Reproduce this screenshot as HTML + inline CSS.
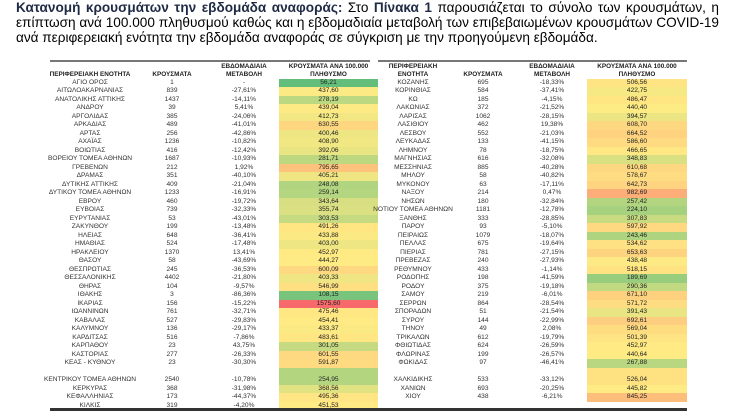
<!DOCTYPE html>
<html><head><meta charset="utf-8">
<style>
html,body{margin:0;padding:0;background:#fff;}
body{width:734px;height:412px;position:relative;overflow:hidden;font-family:"Liberation Sans","DejaVu Sans",sans-serif;}
#intro{position:absolute;left:16px;top:0px;width:703px;font-size:13.6px;line-height:15px;color:#000;text-align:justify;text-align-last:left;}
#intro b{color:#1f2a44;}
.c{position:absolute;font-size:6.6px;color:#333;text-align:center;line-height:8.5px;height:8.5px;white-space:nowrap;}
.h{position:absolute;font-size:6.4px;font-weight:bold;color:#222;text-align:center;line-height:8px;white-space:nowrap;}
.cell{position:absolute;height:8.5px;}
.line{position:absolute;}
</style></head>
<body>
<div id="intro"><b>Κατανομή κρουσμάτων την εβδομάδα αναφοράς:</b> Στο <b>Πίνακα 1</b> παρουσιάζεται το σύνολο των κρουσμάτων, η επίπτωση ανά 100.000 πληθυσμού καθώς και η εβδομαδιαία μεταβολή των επιβεβαιωμένων κρουσμάτων COVID-19 ανά περιφερειακή ενότητα την εβδομάδα αναφοράς σε σύγκριση με την προηγούμενη εβδομάδα.</div>
<div id="tables"></div>
<script>
const leftNames=["ΑΓΙΟ ΟΡΟΣ","ΑΙΤΩΛΟΑΚΑΡΝΑΝΙΑΣ","ΑΝΑΤΟΛΙΚΗΣ ΑΤΤΙΚΗΣ","ΑΝΔΡΟΥ","ΑΡΓΟΛΙΔΑΣ","ΑΡΚΑΔΙΑΣ","ΑΡΤΑΣ","ΑΧΑΪΑΣ","ΒΟΙΩΤΙΑΣ","ΒΟΡΕΙΟΥ ΤΟΜΕΑ ΑΘΗΝΩΝ","ΓΡΕΒΕΝΩΝ","ΔΡΑΜΑΣ","ΔΥΤΙΚΗΣ ΑΤΤΙΚΗΣ","ΔΥΤΙΚΟΥ ΤΟΜΕΑ ΑΘΗΝΩΝ","ΕΒΡΟΥ","ΕΥΒΟΙΑΣ","ΕΥΡΥΤΑΝΙΑΣ","ΖΑΚΥΝΘΟΥ","ΗΛΕΙΑΣ","ΗΜΑΘΙΑΣ","ΗΡΑΚΛΕΙΟΥ","ΘΑΣΟΥ","ΘΕΣΠΡΩΤΙΑΣ","ΘΕΣΣΑΛΟΝΙΚΗΣ","ΘΗΡΑΣ","ΙΘΑΚΗΣ","ΙΚΑΡΙΑΣ","ΙΩΑΝΝΙΝΩΝ","ΚΑΒΑΛΑΣ","ΚΑΛΥΜΝΟΥ","ΚΑΡΔΙΤΣΑΣ","ΚΑΡΠΑΘΟΥ","ΚΑΣΤΟΡΙΑΣ","ΚΕΑΣ - ΚΥΘΝΟΥ","ΚΕΝΤΡΙΚΟΥ ΤΟΜΕΑ ΑΘΗΝΩΝ","ΚΕΡΚΥΡΑΣ","ΚΕΦΑΛΛΗΝΙΑΣ","ΚΙΛΚΙΣ"];
const leftCases=[1,839,1437,39,385,489,256,1236,416,1687,212,351,409,1233,460,739,53,199,648,524,1370,58,245,4402,104,3,156,761,527,136,516,23,277,23,2540,368,173,319];
const leftChange=["-","-27,61%","-14,11%","5,41%","-24,06%","-41,01%","-42,86%","-10,82%","-12,42%","-10,93%","1,92%","-40,10%","-21,04%","-16,91%","-19,72%","-32,33%","-43,01%","-13,48%","-36,41%","-17,48%","13,41%","-43,69%","-36,53%","-21,80%","-9,57%","-86,36%","-15,22%","-32,71%","-29,83%","-29,17%","-7,86%","43,75%","-26,33%","-30,30%","-10,78%","-31,98%","-44,37%","-4,20%"];
const leftRate=[56.21,437.60,278.19,439.04,412.73,630.55,400.46,408.90,392.06,281.71,795.65,405.21,248.08,259.14,343.64,355.74,303.53,491.26,433.88,403.00,452.97,444.27,600.09,403.33,546.99,108.15,1575.60,475.46,454.41,433.37,483.61,301.05,601.55,591.87,254.95,368.56,495.36,451.53];
const rightNames=["ΚΟΖΑΝΗΣ","ΚΟΡΙΝΘΙΑΣ","ΚΩ","ΛΑΚΩΝΙΑΣ","ΛΑΡΙΣΑΣ","ΛΑΣΙΘΙΟΥ","ΛΕΣΒΟΥ","ΛΕΥΚΑΔΑΣ","ΛΗΜΝΟΥ","ΜΑΓΝΗΣΙΑΣ","ΜΕΣΣΗΝΙΑΣ","ΜΗΛΟΥ","ΜΥΚΟΝΟΥ","ΝΑΞΟΥ","ΝΗΣΩΝ","ΝΟΤΙΟΥ ΤΟΜΕΑ ΑΘΗΝΩΝ","ΞΑΝΘΗΣ","ΠΑΡΟΥ","ΠΕΙΡΑΙΩΣ","ΠΕΛΛΑΣ","ΠΙΕΡΙΑΣ","ΠΡΕΒΕΖΑΣ","ΡΕΘΥΜΝΟΥ","ΡΟΔΟΠΗΣ","ΡΟΔΟΥ","ΣΑΜΟΥ","ΣΕΡΡΩΝ","ΣΠΟΡΑΔΩΝ","ΣΥΡΟΥ","ΤΗΝΟΥ","ΤΡΙΚΑΛΩΝ","ΦΘΙΩΤΙΔΑΣ","ΦΛΩΡΙΝΑΣ","ΦΩΚΙΔΑΣ","ΧΑΛΚΙΔΙΚΗΣ","ΧΑΝΙΩΝ","ΧΙΟΥ"];
const rightCases=[695,584,185,372,1062,462,552,133,78,616,885,58,63,214,180,1181,333,93,1079,675,781,240,433,198,375,219,864,51,144,49,612,624,199,97,533,693,438];
const rightChange=["-18,33%","-37,41%","-4,15%","-21,52%","-28,15%","19,38%","-21,03%","-41,15%","-18,75%","-32,08%","-40,28%","-40,82%","-17,11%","0,47%","-32,84%","-12,78%","-28,85%","-5,10%","-18,07%","-19,64%","-27,15%","-27,93%","-1,14%","-41,59%","-19,18%","-6,01%","-28,54%","-21,54%","-22,99%","2,08%","-19,79%","-26,59%","-26,57%","-46,41%","-33,12%","-20,25%","-6,21%"];
const rightRate=[506.56,422.75,486.47,440.40,394.57,608.70,664.52,586.60,466.65,348.83,610.68,578.67,642.73,982.69,257.42,224.10,307.83,597.92,243.46,534.62,653.63,438.48,518.15,189.69,290.36,671.10,571.72,391.43,692.61,569.04,501.39,452.97,440.64,267.88,526.04,445.82,845.25];

const all=leftRate.concat(rightRate).slice().sort((a,b)=>a-b);
const vmin=all[0],vmax=all[all.length-1];
const vmid=(all[Math.floor((all.length-1)/2)]+all[Math.ceil((all.length-1)/2)])/2;
function mix(a,b,t){return a.map((v,i)=>Math.round(v+(b[i]-v)*t));}
function colorFor(v){
  const g=[99,190,123],y=[255,235,132],r=[248,105,107];
  let c=v<=vmid?mix(g,y,(v-vmin)/(vmid-vmin)):mix(y,r,(v-vmid)/(vmax-vmid));
  return 'rgb('+c.join(',')+')';
}
const root=document.getElementById('tables');
const ROW0=78.5,RH=8.5;
function fmt(v){return v.toFixed(2).replace('.',',');}
function slotY(i){return ROW0+(i>=34?i+1:i)*RH;}
function addText(cls,x,w,y,txt){
  const d=document.createElement('div');
  d.className=cls;d.style.left=x+'px';d.style.width=w+'px';d.style.top=y+'px';d.textContent=txt;
  root.appendChild(d);return d;
}
function buildTable(side,names,cases,changes,rates,cols){
  // header
  let h;
  h=addText('h',cols.name-60,120,cols.nameHdrY,cols.nameHdr);
  
  
  h=addText('h',cols.cases-40,80,71,'ΚΡΟΥΣΜΑΤΑ');
  
  
  h=addText('h',cols.chg-40,80,63,'ΕΒΔΟΜΑΔΙΑΙΑ\nΜΕΤΑΒΟΛΗ');h.style.whiteSpace='pre';
  
  
  h=addText('h',cols.rx,cols.rw,63,'ΚΡΟΥΣΜΑΤΑ ΑΝΑ 100.000\nΠΛΗΘΥΣΜΟ');h.style.whiteSpace='pre';
  
  
  for(let i=0;i<names.length;i++){
    const y=slotY(i);
    const double=(i===34);
    const cy=double?y:y; // text sits on lower slot
    const cell=document.createElement('div');
    cell.className='cell';
    cell.style.left=cols.rx+'px';cell.style.width=cols.rw+'px';
    cell.style.top=(double?y-RH:y)+'px';cell.style.height=(double?2*RH:RH)+'px';
    cell.style.background=colorFor(rates[i]);
    
    
    root.appendChild(cell);
    let t;
    t=addText('c',cols.name-60,120,cy,names[i]);
    
    
    t=addText('c',cols.cases-30,60,cy,String(cases[i]));
    
    
    t=addText('c',cols.chg-30,60,cy,changes[i]);
    
    
    t=addText('c',cols.rx,cols.rw,cy,fmt(rates[i]));
    t.style.color='#222';
    
    
  }
}
buildTable('left',leftNames,leftCases,leftChange,leftRate,{name:90,cases:172,chg:244,rx:279,rw:99,nameHdr:'ΠΕΡΙΦΕΡΕΙΑΚΗ ΕΝΟΤΗΤΑ',nameHdrY:71});
buildTable('right',rightNames,rightCases,rightChange,rightRate,{name:413,cases:483,chg:552,rx:587,rw:100,nameHdr:'ΠΕΡΙΦΕΡΕΙΑΚΗ\nΕΝΟΤΗΤΑ',nameHdrY:63});
root.querySelectorAll('.h').forEach(e=>{e.style.whiteSpace='pre';});
function line(x,y,w,h,c,name){
  const d=document.createElement('div');d.className='line';
  d.style.left=x+'px';d.style.top=y+'px';d.style.width=w+'px';d.style.height=h+'px';d.style.background=c;
  
  
  root.appendChild(d);
}
line(50,60,320,2,'#777','top-rule-left');
line(378,60,309,2,'#777','top-rule-right');
line(50,408,637,3,'#333','bottom-rule');
</script>
</body></html>
